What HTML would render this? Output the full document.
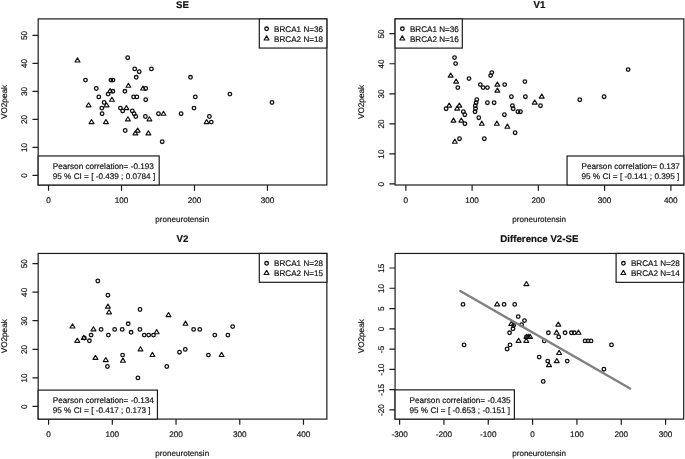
<!DOCTYPE html><html><head><meta charset="utf-8"><style>html,body{margin:0;padding:0;background:#fff}svg{display:block;filter:grayscale(1)}text{font-family:"Liberation Sans",sans-serif;text-rendering:geometricPrecision;fill:#111;stroke:#111;stroke-width:.18px}</style></head><body>
<svg width="685" height="459" viewBox="0 0 685 459">
<rect width="685" height="459" fill="#fff"/>
<g fill="none" stroke="#1c1c1c" stroke-width="1.2">
<rect x="38.17" y="18.9" width="288.68" height="166.10"/>
<path d="M38.17 175.35h-5.7M38.17 147.35h-5.7M38.17 119.35h-5.7M38.17 91.35h-5.7M38.17 63.35h-5.7M38.17 35.35h-5.7M48.55 185.0v5.7M121.52 185.0v5.7M194.49 185.0v5.7M267.46 185.0v5.7"/>
</g>
<g fill="none" stroke="#111" stroke-width="1.3" stroke-linejoin="round">
<circle cx="127.7" cy="57.7" r="1.8"/>
<circle cx="134.7" cy="68.9" r="1.8"/>
<circle cx="139.2" cy="71.7" r="1.8"/>
<circle cx="151.4" cy="68.9" r="1.8"/>
<circle cx="136.2" cy="77.3" r="1.8"/>
<circle cx="85.5" cy="80.1" r="1.8"/>
<circle cx="110.9" cy="80.1" r="1.8"/>
<circle cx="112.9" cy="80.1" r="1.8"/>
<circle cx="96.3" cy="88.5" r="1.8"/>
<circle cx="145.7" cy="88.5" r="1.8"/>
<circle cx="112.9" cy="91.3" r="1.8"/>
<circle cx="124.9" cy="91.3" r="1.8"/>
<circle cx="108.1" cy="94.1" r="1.8"/>
<circle cx="98.8" cy="96.9" r="1.8"/>
<circle cx="133.6" cy="96.9" r="1.8"/>
<circle cx="136.9" cy="96.9" r="1.8"/>
<circle cx="145.7" cy="99.7" r="1.8"/>
<circle cx="104.1" cy="102.5" r="1.8"/>
<circle cx="101.8" cy="108.1" r="1.8"/>
<circle cx="120.4" cy="108.1" r="1.8"/>
<circle cx="122.7" cy="110.9" r="1.8"/>
<circle cx="132.3" cy="110.9" r="1.8"/>
<circle cx="102.1" cy="113.7" r="1.8"/>
<circle cx="134.1" cy="113.7" r="1.8"/>
<circle cx="135.8" cy="116.5" r="1.8"/>
<circle cx="145.4" cy="116.5" r="1.8"/>
<circle cx="158.5" cy="113.7" r="1.8"/>
<circle cx="125.2" cy="130.5" r="1.8"/>
<circle cx="162.2" cy="141.7" r="1.8"/>
<circle cx="190.5" cy="77.3" r="1.8"/>
<circle cx="195.3" cy="96.9" r="1.8"/>
<circle cx="229.9" cy="94.1" r="1.8"/>
<circle cx="272.0" cy="102.5" r="1.8"/>
<circle cx="194.0" cy="108.1" r="1.8"/>
<circle cx="181.1" cy="113.7" r="1.8"/>
<circle cx="209.4" cy="116.5" r="1.8"/>
<circle cx="211.3" cy="122.1" r="1.8"/>
<path stroke-width="1.15" d="M77.5 57.9L80.0 62.0L75.0 62.0Z"/>
<path stroke-width="1.15" d="M128.4 83.2L130.8 87.2L126.0 87.2Z"/>
<path stroke-width="1.15" d="M143.0 86.0L145.4 90.0L140.6 90.0Z"/>
<path stroke-width="1.15" d="M110.1 88.5L112.5 92.6L107.6 92.6Z"/>
<path stroke-width="1.15" d="M111.9 97.2L114.4 101.2L109.5 101.2Z"/>
<path stroke-width="1.15" d="M88.6 102.8L91.0 106.8L86.1 106.8Z"/>
<path stroke-width="1.15" d="M106.6 102.8L109.0 106.8L104.1 106.8Z"/>
<path stroke-width="1.15" d="M126.4 105.5L128.8 109.6L124.0 109.6Z"/>
<path stroke-width="1.15" d="M163.5 111.2L165.9 115.2L161.1 115.2Z"/>
<path stroke-width="1.15" d="M127.9 116.8L130.3 120.8L125.5 120.8Z"/>
<path stroke-width="1.15" d="M149.4 116.8L151.8 120.8L147.0 120.8Z"/>
<path stroke-width="1.15" d="M91.5 119.5L94.0 123.6L89.0 123.6Z"/>
<path stroke-width="1.15" d="M105.9 119.5L108.4 123.6L103.5 123.6Z"/>
<path stroke-width="1.15" d="M137.7 128.0L140.1 132.1L135.2 132.1Z"/>
<path stroke-width="1.15" d="M135.4 130.8L137.8 134.9L133.0 134.9Z"/>
<path stroke-width="1.15" d="M148.4 130.8L150.8 134.9L146.0 134.9Z"/>
<path stroke-width="1.15" d="M206.6 119.5L209.0 123.6L204.2 123.6Z"/>
</g>
<rect x="259.3" y="18.9" width="67.55" height="29.15" fill="#fff" stroke="#1c1c1c" stroke-width="1.2"/>
<g fill="none" stroke="#111" stroke-width="1.3" stroke-linejoin="round"><circle cx="266.6" cy="28.8" r="1.8"/><path stroke-width="1.15" d="M266.6 35.9L269.0 40.0L264.1 40.0Z"/></g>
<text x="274.10" y="31.75" font-size="8.12">BRCA1 N=36</text>
<text x="274.10" y="41.60" font-size="8.12">BRCA2 N=18</text>
<rect x="38.17" y="155.95" width="121.03" height="29.05" fill="#fff" stroke="#1c1c1c" stroke-width="1.2"/>
<text x="52.75" y="168.65" font-size="8.19">Pearson correlation= -0.193</text>
<text x="52.75" y="178.75" font-size="8.19">95 % CI = [ -0.439 ; 0.0784 ]</text>
<text transform="translate(26.87 175.55) rotate(-90)" text-anchor="middle" font-size="8.19">0</text>
<text transform="translate(26.87 147.55) rotate(-90)" text-anchor="middle" font-size="8.19">10</text>
<text transform="translate(26.87 119.55) rotate(-90)" text-anchor="middle" font-size="8.19">20</text>
<text transform="translate(26.87 91.55) rotate(-90)" text-anchor="middle" font-size="8.19">30</text>
<text transform="translate(26.87 63.55) rotate(-90)" text-anchor="middle" font-size="8.19">40</text>
<text transform="translate(26.87 35.55) rotate(-90)" text-anchor="middle" font-size="8.19">50</text>
<text x="48.55" y="203.20" text-anchor="middle" font-size="8.19">0</text>
<text x="121.52" y="203.20" text-anchor="middle" font-size="8.19">100</text>
<text x="194.49" y="203.20" text-anchor="middle" font-size="8.19">200</text>
<text x="267.46" y="203.20" text-anchor="middle" font-size="8.19">300</text>
<text x="182.26" y="222.35" text-anchor="middle" font-size="8.07">proneurotensin</text>
<text transform="translate(7.47 101.95) rotate(-90)" text-anchor="middle" font-size="8.19">VO2peak</text>
<text x="182.51" y="7.70" text-anchor="middle" font-size="9.7" font-weight="bold">SE</text>
<g fill="none" stroke="#1c1c1c" stroke-width="1.2">
<rect x="395.08" y="18.9" width="288.72" height="166.10"/>
<path d="M395.08 183.95h-5.7M395.08 153.90h-5.7M395.08 123.85h-5.7M395.08 93.80h-5.7M395.08 63.75h-5.7M395.08 33.70h-5.7M405.85 185.0v5.7M472.10 185.0v5.7M538.35 185.0v5.7M604.60 185.0v5.7M670.85 185.0v5.7"/>
</g>
<g fill="none" stroke="#111" stroke-width="1.3" stroke-linejoin="round">
<circle cx="454.5" cy="57.6" r="1.8"/>
<circle cx="455.6" cy="63.6" r="1.8"/>
<circle cx="491.8" cy="72.6" r="1.8"/>
<circle cx="490.6" cy="75.6" r="1.8"/>
<circle cx="469.0" cy="78.6" r="1.8"/>
<circle cx="524.9" cy="81.6" r="1.8"/>
<circle cx="480.3" cy="84.6" r="1.8"/>
<circle cx="504.7" cy="84.6" r="1.8"/>
<circle cx="483.1" cy="87.6" r="1.8"/>
<circle cx="487.4" cy="87.6" r="1.8"/>
<circle cx="457.8" cy="87.6" r="1.8"/>
<circle cx="511.4" cy="96.7" r="1.8"/>
<circle cx="525.4" cy="96.7" r="1.8"/>
<circle cx="476.8" cy="99.7" r="1.8"/>
<circle cx="476.1" cy="102.7" r="1.8"/>
<circle cx="475.3" cy="105.7" r="1.8"/>
<circle cx="475.5" cy="108.7" r="1.8"/>
<circle cx="475.0" cy="111.7" r="1.8"/>
<circle cx="487.4" cy="102.7" r="1.8"/>
<circle cx="494.1" cy="102.7" r="1.8"/>
<circle cx="512.4" cy="105.7" r="1.8"/>
<circle cx="513.2" cy="108.7" r="1.8"/>
<circle cx="540.5" cy="105.7" r="1.8"/>
<circle cx="517.9" cy="111.7" r="1.8"/>
<circle cx="520.4" cy="111.7" r="1.8"/>
<circle cx="446.1" cy="108.7" r="1.8"/>
<circle cx="463.3" cy="111.7" r="1.8"/>
<circle cx="464.8" cy="114.7" r="1.8"/>
<circle cx="504.4" cy="114.7" r="1.8"/>
<circle cx="478.8" cy="117.7" r="1.8"/>
<circle cx="464.9" cy="123.7" r="1.8"/>
<circle cx="515.1" cy="132.7" r="1.8"/>
<circle cx="459.5" cy="138.7" r="1.8"/>
<circle cx="484.3" cy="138.7" r="1.8"/>
<circle cx="628.1" cy="69.6" r="1.8"/>
<circle cx="604.1" cy="96.7" r="1.8"/>
<circle cx="579.8" cy="99.7" r="1.8"/>
<path stroke-width="1.15" d="M450.7 73.0L453.1 77.1L448.2 77.1Z"/>
<path stroke-width="1.15" d="M456.1 79.0L458.6 83.1L453.7 83.1Z"/>
<path stroke-width="1.15" d="M497.4 82.0L499.8 86.1L494.9 86.1Z"/>
<path stroke-width="1.15" d="M497.4 88.0L499.8 92.1L494.9 92.1Z"/>
<path stroke-width="1.15" d="M541.8 94.0L544.2 98.1L539.3 98.1Z"/>
<path stroke-width="1.15" d="M534.7 100.0L537.2 104.1L532.2 104.1Z"/>
<path stroke-width="1.15" d="M449.2 103.0L451.6 107.1L446.8 107.1Z"/>
<path stroke-width="1.15" d="M459.4 103.0L461.8 107.1L456.9 107.1Z"/>
<path stroke-width="1.15" d="M457.1 106.0L459.6 110.1L454.7 110.1Z"/>
<path stroke-width="1.15" d="M453.5 118.0L455.9 122.1L451.1 122.1Z"/>
<path stroke-width="1.15" d="M461.3 118.0L463.8 122.1L458.9 122.1Z"/>
<path stroke-width="1.15" d="M481.8 121.1L484.2 125.2L479.4 125.2Z"/>
<path stroke-width="1.15" d="M496.9 121.1L499.3 125.2L494.4 125.2Z"/>
<path stroke-width="1.15" d="M507.4 124.1L509.8 128.2L504.9 128.2Z"/>
<path stroke-width="1.15" d="M454.8 139.1L457.2 143.2L452.4 143.2Z"/>
</g>
<rect x="395.08" y="18.9" width="67.22" height="29.20" fill="#fff" stroke="#1c1c1c" stroke-width="1.2"/>
<g fill="none" stroke="#111" stroke-width="1.3" stroke-linejoin="round"><circle cx="402.4" cy="28.8" r="1.8"/><path stroke-width="1.15" d="M402.3 35.9L404.8 40.0L399.9 40.0Z"/></g>
<text x="409.88" y="31.75" font-size="8.12">BRCA1 N=36</text>
<text x="409.88" y="41.60" font-size="8.12">BRCA2 N=16</text>
<rect x="567.05" y="156.0" width="116.75" height="29.00" fill="#fff" stroke="#1c1c1c" stroke-width="1.2"/>
<text x="581.5" y="168.70" font-size="8.19">Pearson correlation= 0.137</text>
<text x="581.5" y="178.80" font-size="8.19">95 % CI = [ -0.141 ; 0.395 ]</text>
<text transform="translate(383.78 184.15) rotate(-90)" text-anchor="middle" font-size="8.19">0</text>
<text transform="translate(383.78 154.10) rotate(-90)" text-anchor="middle" font-size="8.19">10</text>
<text transform="translate(383.78 124.05) rotate(-90)" text-anchor="middle" font-size="8.19">20</text>
<text transform="translate(383.78 94.00) rotate(-90)" text-anchor="middle" font-size="8.19">30</text>
<text transform="translate(383.78 63.95) rotate(-90)" text-anchor="middle" font-size="8.19">40</text>
<text transform="translate(383.78 33.90) rotate(-90)" text-anchor="middle" font-size="8.19">50</text>
<text x="405.85" y="203.20" text-anchor="middle" font-size="8.19">0</text>
<text x="472.10" y="203.20" text-anchor="middle" font-size="8.19">100</text>
<text x="538.35" y="203.20" text-anchor="middle" font-size="8.19">200</text>
<text x="604.60" y="203.20" text-anchor="middle" font-size="8.19">300</text>
<text x="670.85" y="203.20" text-anchor="middle" font-size="8.19">400</text>
<text x="539.19" y="222.35" text-anchor="middle" font-size="8.07">proneurotensin</text>
<text transform="translate(364.38 101.95) rotate(-90)" text-anchor="middle" font-size="8.19">VO2peak</text>
<text x="539.44" y="7.70" text-anchor="middle" font-size="9.7" font-weight="bold">V1</text>
<g fill="none" stroke="#1c1c1c" stroke-width="1.2">
<rect x="38.17" y="253.45" width="288.68" height="165.65"/>
<path d="M38.17 406.45h-5.7M38.17 377.87h-5.7M38.17 349.29h-5.7M38.17 320.71h-5.7M38.17 292.13h-5.7M38.17 263.55h-5.7M48.60 419.1v5.7M112.32 419.1v5.7M176.04 419.1v5.7M239.76 419.1v5.7M303.48 419.1v5.7"/>
</g>
<g fill="none" stroke="#111" stroke-width="1.3" stroke-linejoin="round">
<circle cx="97.8" cy="281.0" r="1.8"/>
<circle cx="107.9" cy="295.2" r="1.8"/>
<circle cx="140.0" cy="309.5" r="1.8"/>
<circle cx="128.2" cy="323.8" r="1.8"/>
<circle cx="101.1" cy="329.4" r="1.8"/>
<circle cx="114.7" cy="329.4" r="1.8"/>
<circle cx="122.2" cy="329.4" r="1.8"/>
<circle cx="139.9" cy="329.4" r="1.8"/>
<circle cx="131.1" cy="332.3" r="1.8"/>
<circle cx="91.1" cy="335.1" r="1.8"/>
<circle cx="108.4" cy="335.1" r="1.8"/>
<circle cx="144.2" cy="335.1" r="1.8"/>
<circle cx="148.7" cy="335.1" r="1.8"/>
<circle cx="153.5" cy="335.1" r="1.8"/>
<circle cx="84.3" cy="338.0" r="1.8"/>
<circle cx="89.4" cy="340.8" r="1.8"/>
<circle cx="122.6" cy="355.1" r="1.8"/>
<circle cx="107.4" cy="366.5" r="1.8"/>
<circle cx="137.9" cy="377.9" r="1.8"/>
<circle cx="166.8" cy="366.5" r="1.8"/>
<circle cx="232.7" cy="326.6" r="1.8"/>
<circle cx="193.6" cy="329.4" r="1.8"/>
<circle cx="199.8" cy="329.4" r="1.8"/>
<circle cx="214.8" cy="335.1" r="1.8"/>
<circle cx="227.9" cy="335.1" r="1.8"/>
<circle cx="185.3" cy="349.4" r="1.8"/>
<circle cx="179.5" cy="352.2" r="1.8"/>
<circle cx="208.4" cy="355.1" r="1.8"/>
<path stroke-width="1.15" d="M107.9 304.0L110.4 308.1L105.5 308.1Z"/>
<path stroke-width="1.15" d="M109.1 309.7L111.5 313.8L106.6 313.8Z"/>
<path stroke-width="1.15" d="M168.5 312.5L170.9 316.6L166.1 316.6Z"/>
<path stroke-width="1.15" d="M72.5 323.9L75.0 328.0L70.0 328.0Z"/>
<path stroke-width="1.15" d="M93.4 326.8L95.9 330.9L91.0 330.9Z"/>
<path stroke-width="1.15" d="M156.7 329.6L159.1 333.7L154.2 333.7Z"/>
<path stroke-width="1.15" d="M83.8 335.3L86.2 339.4L81.3 339.4Z"/>
<path stroke-width="1.15" d="M77.3 338.2L79.8 342.3L74.8 342.3Z"/>
<path stroke-width="1.15" d="M140.5 346.7L142.9 350.8L138.1 350.8Z"/>
<path stroke-width="1.15" d="M152.4 352.4L154.8 356.5L150.0 356.5Z"/>
<path stroke-width="1.15" d="M95.4 355.3L97.9 359.4L93.0 359.4Z"/>
<path stroke-width="1.15" d="M105.8 357.5L108.2 361.6L103.3 361.6Z"/>
<path stroke-width="1.15" d="M122.9 358.1L125.4 362.2L120.5 362.2Z"/>
<path stroke-width="1.15" d="M185.5 321.1L187.9 325.2L183.1 325.2Z"/>
<path stroke-width="1.15" d="M221.6 352.4L224.0 356.5L219.2 356.5Z"/>
</g>
<rect x="259.3" y="253.45" width="67.55" height="28.85" fill="#fff" stroke="#1c1c1c" stroke-width="1.2"/>
<g fill="none" stroke="#111" stroke-width="1.3" stroke-linejoin="round"><circle cx="266.6" cy="263.3" r="1.8"/><path stroke-width="1.15" d="M266.6 270.4L269.0 274.5L264.1 274.5Z"/></g>
<text x="274.10" y="266.30" font-size="8.12">BRCA1 N=28</text>
<text x="274.10" y="276.15" font-size="8.12">BRCA2 N=15</text>
<rect x="38.17" y="390.1" width="119.28" height="29.00" fill="#fff" stroke="#1c1c1c" stroke-width="1.2"/>
<text x="52.75" y="402.80" font-size="8.19">Pearson correlation= -0.134</text>
<text x="52.75" y="412.90" font-size="8.19">95 % CI = [ -0.417 ; 0.173 ]</text>
<text transform="translate(26.87 406.65) rotate(-90)" text-anchor="middle" font-size="8.19">0</text>
<text transform="translate(26.87 378.07) rotate(-90)" text-anchor="middle" font-size="8.19">10</text>
<text transform="translate(26.87 349.49) rotate(-90)" text-anchor="middle" font-size="8.19">20</text>
<text transform="translate(26.87 320.91) rotate(-90)" text-anchor="middle" font-size="8.19">30</text>
<text transform="translate(26.87 292.33) rotate(-90)" text-anchor="middle" font-size="8.19">40</text>
<text transform="translate(26.87 263.75) rotate(-90)" text-anchor="middle" font-size="8.19">50</text>
<text x="48.60" y="437.30" text-anchor="middle" font-size="8.19">0</text>
<text x="112.32" y="437.30" text-anchor="middle" font-size="8.19">100</text>
<text x="176.04" y="437.30" text-anchor="middle" font-size="8.19">200</text>
<text x="239.76" y="437.30" text-anchor="middle" font-size="8.19">300</text>
<text x="303.48" y="437.30" text-anchor="middle" font-size="8.19">400</text>
<text x="182.26" y="456.45" text-anchor="middle" font-size="8.07">proneurotensin</text>
<text transform="translate(7.47 336.27) rotate(-90)" text-anchor="middle" font-size="8.19">VO2peak</text>
<text x="182.51" y="242.40" text-anchor="middle" font-size="9.7" font-weight="bold">V2</text>
<g fill="none" stroke="#1c1c1c" stroke-width="1.2">
<rect x="395.08" y="253.45" width="288.62" height="165.65"/>
<path d="M395.08 409.90h-5.7M395.08 389.62h-5.7M395.08 369.35h-5.7M395.08 349.07h-5.7M395.08 328.80h-5.7M395.08 308.53h-5.7M395.08 288.25h-5.7M395.08 267.98h-5.7M399.61 419.1v5.7M443.94 419.1v5.7M488.27 419.1v5.7M532.60 419.1v5.7M576.93 419.1v5.7M621.26 419.1v5.7M665.59 419.1v5.7"/>
</g>
<g fill="none" stroke="#111" stroke-width="1.3" stroke-linejoin="round">
<circle cx="463.0" cy="304.4" r="1.8"/>
<circle cx="504.1" cy="304.4" r="1.8"/>
<circle cx="514.7" cy="304.4" r="1.8"/>
<circle cx="518.2" cy="316.6" r="1.8"/>
<circle cx="524.5" cy="320.6" r="1.8"/>
<circle cx="521.6" cy="324.7" r="1.8"/>
<circle cx="513.6" cy="325.5" r="1.8"/>
<circle cx="513.0" cy="328.8" r="1.8"/>
<circle cx="509.6" cy="332.8" r="1.8"/>
<circle cx="548.4" cy="332.8" r="1.8"/>
<circle cx="565.1" cy="332.8" r="1.8"/>
<circle cx="571.4" cy="332.8" r="1.8"/>
<circle cx="574.3" cy="332.8" r="1.8"/>
<circle cx="558.7" cy="336.9" r="1.8"/>
<circle cx="526.5" cy="336.9" r="1.8"/>
<circle cx="544.3" cy="340.9" r="1.8"/>
<circle cx="585.1" cy="340.9" r="1.8"/>
<circle cx="588.0" cy="340.9" r="1.8"/>
<circle cx="591.0" cy="340.9" r="1.8"/>
<circle cx="464.1" cy="344.9" r="1.8"/>
<circle cx="510.0" cy="344.9" r="1.8"/>
<circle cx="611.5" cy="344.9" r="1.8"/>
<circle cx="507.1" cy="349.0" r="1.8"/>
<circle cx="539.2" cy="357.1" r="1.8"/>
<circle cx="547.7" cy="361.1" r="1.8"/>
<circle cx="567.2" cy="361.1" r="1.8"/>
<circle cx="603.9" cy="369.2" r="1.8"/>
<circle cx="543.2" cy="381.4" r="1.8"/>
<path stroke-width="1.15" d="M526.4 281.5L528.9 285.6L523.9 285.6Z"/>
<path stroke-width="1.15" d="M497.1 301.8L499.6 305.9L494.7 305.9Z"/>
<path stroke-width="1.15" d="M511.4 321.2L513.9 325.4L508.9 325.4Z"/>
<path stroke-width="1.15" d="M558.3 322.0L560.8 326.1L555.8 326.1Z"/>
<path stroke-width="1.15" d="M556.6 330.1L559.1 334.2L554.1 334.2Z"/>
<path stroke-width="1.15" d="M578.5 330.1L581.0 334.2L576.0 334.2Z"/>
<path stroke-width="1.15" d="M526.5 334.2L529.0 338.3L524.0 338.3Z"/>
<path stroke-width="1.15" d="M528.2 334.2L530.7 338.3L525.8 338.3Z"/>
<path stroke-width="1.15" d="M530.0 334.2L532.5 338.3L527.5 338.3Z"/>
<path stroke-width="1.15" d="M518.6 338.2L521.1 342.3L516.1 342.3Z"/>
<path stroke-width="1.15" d="M526.3 338.2L528.8 342.3L523.8 342.3Z"/>
<path stroke-width="1.15" d="M559.1 350.4L561.6 354.5L556.6 354.5Z"/>
<path stroke-width="1.15" d="M556.8 358.5L559.2 362.6L554.3 362.6Z"/>
<path stroke-width="1.15" d="M549.0 362.5L551.5 366.6L546.5 366.6Z"/>
</g>
<line x1="460.3" y1="291.1" x2="630.1" y2="388.4" stroke="#808080" stroke-width="2.35" stroke-linecap="round"/>
<rect x="616.1" y="253.45" width="67.60" height="28.90" fill="#fff" stroke="#1c1c1c" stroke-width="1.2"/>
<g fill="none" stroke="#111" stroke-width="1.3" stroke-linejoin="round"><circle cx="623.4" cy="263.3" r="1.8"/><path stroke-width="1.15" d="M623.4 270.4L625.8 274.5L620.9 274.5Z"/></g>
<text x="630.90" y="266.30" font-size="8.12">BRCA1 N=28</text>
<text x="630.90" y="276.15" font-size="8.12">BRCA2 N=14</text>
<rect x="395.08" y="389.9" width="119.32" height="29.20" fill="#fff" stroke="#1c1c1c" stroke-width="1.2"/>
<text x="409.5" y="402.60" font-size="8.19">Pearson correlation= -0.435</text>
<text x="409.5" y="412.70" font-size="8.19">95 % CI = [ -0.653 ; -0.151 ]</text>
<text transform="translate(383.78 410.10) rotate(-90)" text-anchor="middle" font-size="8.19">-20</text>
<text transform="translate(383.78 389.82) rotate(-90)" text-anchor="middle" font-size="8.19">-15</text>
<text transform="translate(383.78 369.55) rotate(-90)" text-anchor="middle" font-size="8.19">-10</text>
<text transform="translate(383.78 349.27) rotate(-90)" text-anchor="middle" font-size="8.19">-5</text>
<text transform="translate(383.78 329.00) rotate(-90)" text-anchor="middle" font-size="8.19">0</text>
<text transform="translate(383.78 308.73) rotate(-90)" text-anchor="middle" font-size="8.19">5</text>
<text transform="translate(383.78 288.45) rotate(-90)" text-anchor="middle" font-size="8.19">10</text>
<text transform="translate(383.78 268.18) rotate(-90)" text-anchor="middle" font-size="8.19">15</text>
<text x="399.61" y="437.30" text-anchor="middle" font-size="8.19">-300</text>
<text x="443.94" y="437.30" text-anchor="middle" font-size="8.19">-200</text>
<text x="488.27" y="437.30" text-anchor="middle" font-size="8.19">-100</text>
<text x="532.60" y="437.30" text-anchor="middle" font-size="8.19">0</text>
<text x="576.93" y="437.30" text-anchor="middle" font-size="8.19">100</text>
<text x="621.26" y="437.30" text-anchor="middle" font-size="8.19">200</text>
<text x="665.59" y="437.30" text-anchor="middle" font-size="8.19">300</text>
<text x="539.14" y="456.45" text-anchor="middle" font-size="8.07">proneurotensin</text>
<text transform="translate(364.38 336.27) rotate(-90)" text-anchor="middle" font-size="8.19">VO2peak</text>
<text x="539.39" y="242.40" text-anchor="middle" font-size="9.7" font-weight="bold">Difference V2-SE</text>
</svg></body></html>
